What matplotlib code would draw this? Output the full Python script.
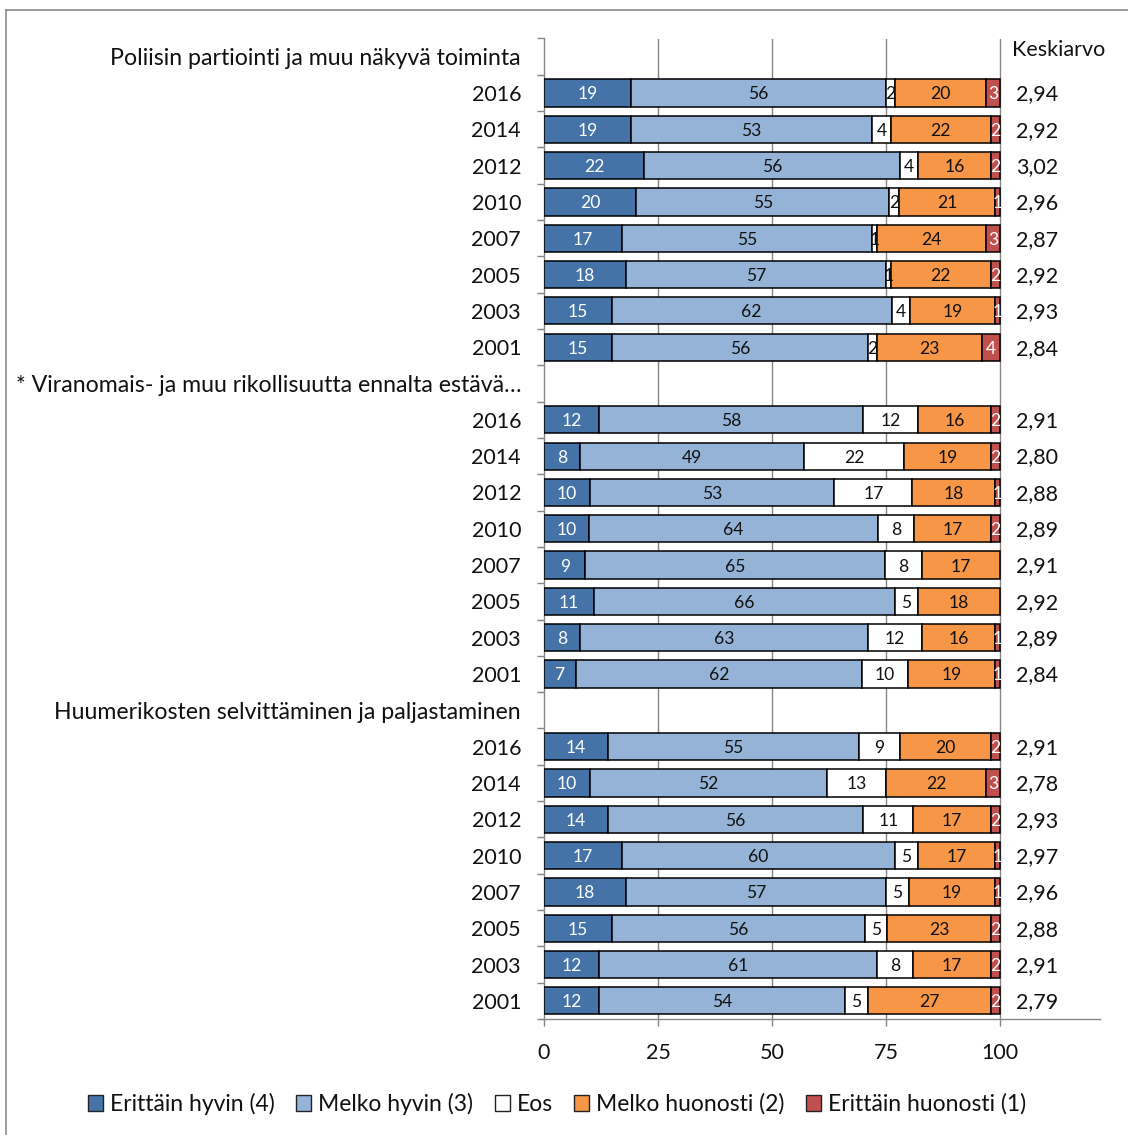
import matplotlib
matplotlib.use("Agg")
import matplotlib.pyplot as plt
from matplotlib.patches import Patch
from matplotlib.lines import Line2D
import numpy as np

plt.rcParams['font.family'] = ['Lato', 'DejaVu Sans']

groups = ["Poliisin partiointi ja muu näkyvä toiminta",
          "* Viranomais- ja muu rikollisuutta ennalta estävä…",
          "Huumerikosten selvittäminen ja paljastaminen"]
years = ["2016", "2014", "2012", "2010", "2007", "2005", "2003", "2001"]

series_names = ["Erittäin hyvin (4)", "Melko hyvin (3)", "Eos",
                "Melko huonosti (2)", "Erittäin huonosti (1)"]

erittain_hyvin = [[19, 19, 22, 20, 17, 18, 15, 15],
                  [12, 8, 10, 10, 9, 11, 8, 7],
                  [14, 10, 14, 17, 18, 15, 12, 12]]
melko_hyvin = [[56, 53, 56, 55, 55, 57, 62, 56],
               [58, 49, 53, 64, 65, 66, 63, 62],
               [55, 52, 56, 60, 57, 56, 61, 54]]
eos = [[2, 4, 4, 2, 1, 1, 4, 2],
       [12, 22, 17, 8, 8, 5, 12, 10],
       [9, 13, 11, 5, 5, 5, 8, 5]]
melko_huonosti = [[20, 22, 16, 21, 24, 22, 19, 23],
                  [16, 19, 18, 17, 17, 18, 16, 19],
                  [20, 22, 17, 17, 19, 23, 17, 27]]
erittain_huonosti = [[3, 2, 2, 1, 3, 2, 1, 4],
                     [2, 2, 1, 2, 0, 0, 1, 1],
                     [2, 3, 2, 1, 1, 2, 2, 2]]
keskiarvo = [[2.94, 2.92, 3.02, 2.96, 2.87, 2.92, 2.93, 2.84],
             [2.91, 2.80, 2.88, 2.89, 2.91, 2.92, 2.89, 2.84],
             [2.91, 2.78, 2.93, 2.97, 2.96, 2.88, 2.91, 2.79]]

colors = ["#4572A7", "#95B3D7", "#FFFFFF", "#F79646", "#C0504D"]
text_colors = ["white", "#111111", "#111111", "#111111", "white"]

# build category list (header rows have no bars)
cat_labels = []
header_pos = []
rows = []  # (position, group index, year index)
for g, name in enumerate(groups):
    header_pos.append(len(cat_labels))
    cat_labels.append(name)
    for yi, yr in enumerate(years):
        rows.append((len(cat_labels), g, yi))
        cat_labels.append(yr)
n = len(cat_labels)

W, H = 1128, 1135
fig = plt.figure(figsize=(W / 100, H / 100), dpi=100)
fig.patch.set_facecolor("white")

x0, x100 = 544, 1000
xmax = 122
px_per = (x100 - x0) / 100
ax_left = x0 / W
ax_w = xmax * px_per / W
ax_top = 38.5
ax_bot = 1019
ax = fig.add_axes([ax_left, 1 - ax_bot / H, ax_w, (ax_bot - ax_top) / H])

all_series = [erittain_hyvin, melko_hyvin, eos, melko_huonosti, erittain_huonosti]
bar_h = 0.75
for pos, g, yi in rows:
    vals = np.array([s[g][yi] for s in all_series], dtype=float)
    pct = vals / vals.sum() * 100  # 100% stacked
    left = 0.0
    for k in range(5):
        if vals[k] > 0:
            ax.barh(pos, pct[k], left=left, height=bar_h, color=colors[k],
                    edgecolor="black", linewidth=1.1, zorder=3)
            ax.text(left + pct[k] / 2, pos + 0.04, f"{int(vals[k])}", ha="center",
                    va="center", fontsize=12.6, color=text_colors[k], zorder=4)
        left += pct[k]
    ax.text(103.5, pos + 0.04, f"{keskiarvo[g][yi]:.2f}".replace(".", ","),
            ha="left", va="center", fontsize=15.5, color="#111111",
            clip_on=False)

ax.text(102.6, -0.18, "Keskiarvo", ha="left", va="center", fontsize=15.5,
        color="#111111", clip_on=False)

ax.set_xlim(0, xmax)
ax.set_ylim(n - 0.5, -0.5)
ax.set_yticks(range(n))
ax.set_yticklabels(cat_labels, fontsize=15.5, color="#111111")
for i, lab in enumerate(ax.get_yticklabels()):
    if i in header_pos:
        lab.set_fontsize(16.7)
ax.set_yticks(np.arange(-0.5, n, 1.0), minor=True)
ax.tick_params(axis="y", which="major", length=0, pad=16.5)
ax.tick_params(axis="y", which="minor", length=5, width=1, color="#868686",
               direction="out")
ax.set_xticks([0, 25, 50, 75, 100])
ax.set_xticklabels(["0", "25", "50", "75", "100"], fontsize=15.5,
                   color="#111111")
ax.tick_params(axis="x", which="major", length=5, width=1, color="#868686",
               pad=12)
for xv in [25, 50, 75, 100]:
    ax.axvline(xv, color="#868686", linewidth=1, zorder=1)
for side in ["top", "right"]:
    ax.spines[side].set_visible(False)
for side in ["left", "bottom"]:
    ax.spines[side].set_color("#868686")
    ax.spines[side].set_linewidth(1)

# outer border
fig.add_artist(Line2D([6 / W, 1.0], [1 - 10 / H, 1 - 10 / H],
                      transform=fig.transFigure, color="#8C8C8C", linewidth=1.2))
fig.add_artist(Line2D([6 / W, 6 / W], [1 - 10 / H, 0.0],
                      transform=fig.transFigure, color="#8C8C8C", linewidth=1.2))

handles = [Patch(facecolor=c, edgecolor="#222222", linewidth=1) for c in colors]
fig.legend(handles, series_names, loc="center", ncol=5,
           bbox_to_anchor=(557 / W, 1 - 1104 / H), frameon=False,
           fontsize=16.5, handlelength=0.65, handleheight=0.65,
           handletextpad=0.3, columnspacing=0.95, labelcolor="#111111")

fig.savefig("out.png", dpi=100, facecolor="white")
